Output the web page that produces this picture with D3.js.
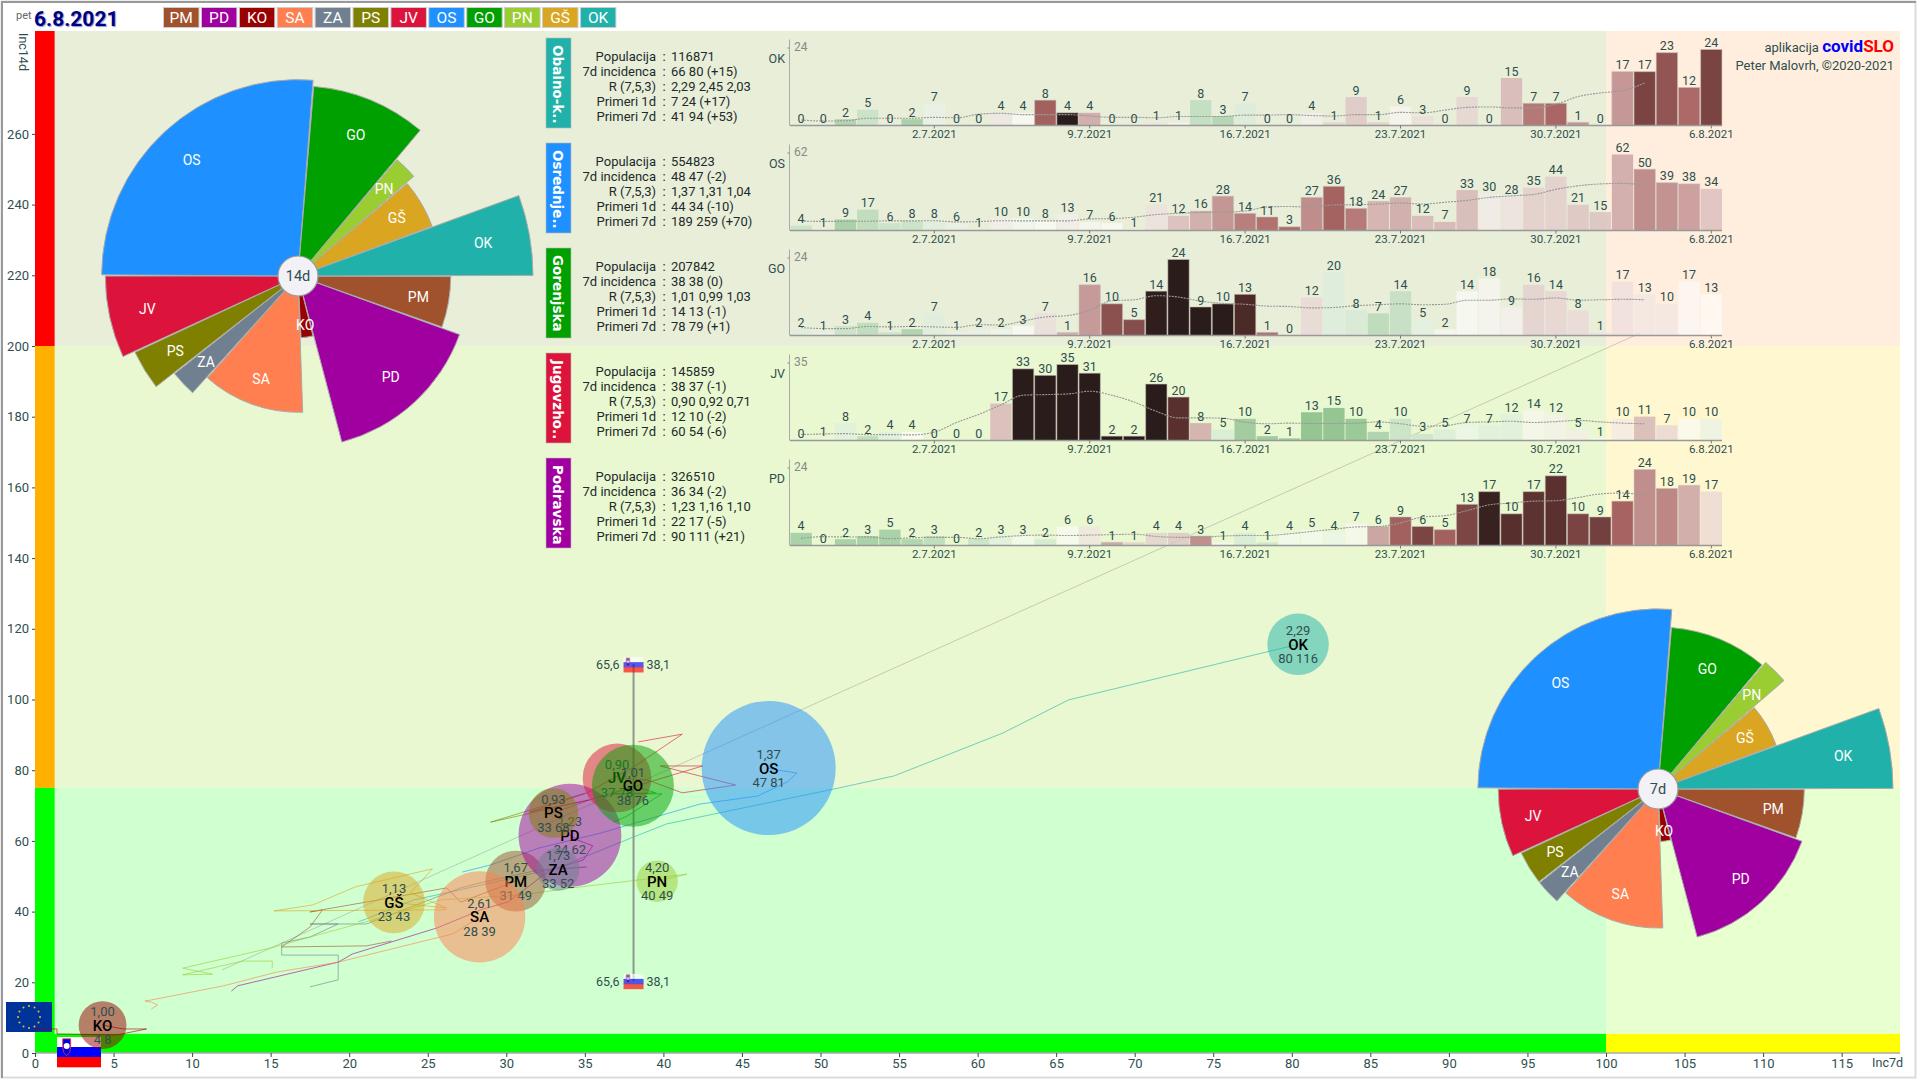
<!DOCTYPE html>
<html><head><meta charset="utf-8">
<script src="https://cdnjs.cloudflare.com/ajax/libs/d3/7.8.5/d3.min.js"></script>
<style>
html,body{margin:0;padding:0;background:#fff}
svg{display:block;font-family:Roboto,sans-serif}
</style></head><body>
<svg id="c" width="1920" height="1080"></svg>
<script>
// ---------- data ----------
const codes   = ["PM","PD","KO","SA","ZA","PS","JV","OS","GO","PN","GŠ","OK"];
const colors  = ["#a0522d","#a0009f","#990000","#ff7f50","#708090","#808000","#dc143c","#1e90ff","#00a000","#9acd32","#daa520","#20b2aa"];
const pops    = [114287,326510,70800,258000,57000,76000,145859,554823,207842,53000,118000,116871];
const inc7    = [30.6,34.05,4.3,28.3,33.3,33.0,37.05,46.7,38.06,39.6,22.85,80.4];
const inc14   = [48.6,61.6,7.9,38.5,52.0,67.9,77.8,80.6,75.6,48.6,42.6,115.6];
const rVals   = ["1,67","1,23","1,00","2,61","1,73","0,93","0,90","1,37","1,01","4,20","1,13","2,29"];

const trailPM = [[22.7,31.7],[21.1,30.3],[15.7,30.0],[17.5,35.6],[18.3,40.5],[17.5,39.9],[26.2,46.7],[27.1,42.7],[30.6,48.6]];
const trailPD = [[12.5,17.5],[12.9,19.0],[19.3,25.7],[20.2,28.0],[25.6,35.4],[28.5,40.7],[30.1,42.7],[32.8,51.8],[34.9,54.6],[35.5,58.6],[34.5,60.3],[34.05,61.6]];
const trailKO = [[0,6.8],[1.4,6.8],[1.4,5.4],[5.2,5.1],[7.1,6.8],[5.6,6.8],[4.3,7.9]];
const trailSA = [[7.4,12.4],[7.8,13.6],[7.4,14.4],[7.0,14.7],[7.4,15.0],[12.0,19.0],[15.4,22.9],[19.3,25.7],[26.6,33.7],[28.3,38.5]];
const trailZA = [[17.5,18.7],[19.3,20.7],[19.3,27.7],[15.7,27.7],[15.7,31.1],[17.5,32.8],[19.3,36.5],[17.5,36.5],[21.1,36.5],[27.1,46.7],[28.3,48.1],[32.1,51.8],[35.1,52.6],[33.3,52.0]];
const trailPS = [[35.0,73.5],[29.0,65.3],[35.3,71.6],[33.0,67.9]];
const trailJV = [[38.4,88.0],[41.2,90.2],[38.1,80.9],[35.1,73.5],[31.5,68.2],[35.3,71.6],[42.5,81.2],[39.8,81.2],[44.6,75.8],[41.2,73.6],[39.0,77.2],[37.05,77.8]];
const trailOS = [[27.2,51.2],[29.0,53.2],[32.1,58.0],[36.0,62.2],[42.3,70.4],[46.0,72.7],[47.9,76.7],[48.5,79.2],[47.2,80.1],[46.7,80.6]];
const trailGO = [[36.8,65.3],[37.6,66.8],[39.9,73.3],[36.8,73.3],[39.5,73.6],[38.06,75.6]];
const trailPN = [[15.1,24.0],[15.1,26.0],[13.2,26.0],[9.4,22.1],[11.3,22.3],[9.4,24.0],[15.0,29.7],[17.5,32.8],[22.2,38.5],[25.8,43.3],[30.9,44.7],[34.2,46.7],[41.5,50.6],[39.6,48.6]];
const trailGS = [[26.2,40.5],[15.2,40.2],[17.7,41.9],[20.4,47.0],[25.3,52.1],[23.9,45.3],[26.2,41.0],[22.85,42.6]];
const trailOK = [[20.6,37.1],[24.1,43.3],[26.2,45.3],[33.2,52.3],[38.1,61.1],[40.2,64.8],[51.2,75.0],[54.7,78.4],[61.6,90.5],[65.8,99.9],[80.4,115.6]];
const trailFaint = [[11.9,23.5],[102.2,203.7]];
const trails = [trailPM,trailPD,trailKO,trailSA,trailZA,trailPS,trailJV,trailOS,trailGO,trailPN,trailGS,trailOK];

const panelCodes = ["OK","OS","GO","JV","PD"];
const panelNames = ["Obalno-k..","Osrednje..","Gorenjska","Jugovzho..","Podravska"];
const statLabels = ["Populacija","7d incidenca","R (7,5,3)","Primeri 1d","Primeri 7d"];
const statsOK = ["116871","66 80 (+15)","2,29 2,45 2,03","7 24 (+17)","41 94 (+53)"];
const statsOS = ["554823","48 47 (-2)","1,37 1,31 1,04","44 34 (-10)","189 259 (+70)"];
const statsGO = ["207842","38 38 (0)","1,01 0,99 1,03","14 13 (-1)","78 79 (+1)"];
const statsJV = ["145859","38 37 (-1)","0,90 0,92 0,71","12 10 (-2)","60 54 (-6)"];
const statsPD = ["326510","36 34 (-2)","1,23 1,16 1,10","22 17 (-5)","90 111 (+21)"];
const panelStats = [statsOK,statsOS,statsGO,statsJV,statsPD];

const casesOK = [0,0,2,5,0,2,7,0,0,4,4,8,4,4,0,0,1,1,8,3,7,0,0,4,1,9,1,6,3,0,9,0,15,7,7,1,0,17,17,23,12,24];
const casesOS = [4,1,9,17,6,8,8,6,1,10,10,8,13,7,6,1,21,12,16,28,14,11,3,27,36,18,24,27,12,7,33,30,28,35,44,21,15,62,50,39,38,34];
const casesGO = [2,1,3,4,1,2,7,1,2,2,3,7,1,16,10,5,14,24,9,10,13,1,0,12,20,8,7,14,5,2,14,18,9,16,14,8,1,17,13,10,17,13];
const casesJV = [0,1,8,2,4,4,0,0,0,17,33,30,35,31,2,2,26,20,8,5,10,2,1,13,15,10,4,10,3,5,7,7,12,14,12,5,1,10,11,7,10,10];
const casesPD = [4,0,2,3,5,2,3,0,2,3,3,2,6,6,1,1,4,4,3,1,4,1,4,5,4,7,6,9,6,5,13,17,10,17,22,10,9,14,24,18,19,17];
const panelCases = [casesOK,casesOS,casesGO,casesJV,casesPD];
// ratio shown by the colour of the first bars (their prior weeks are not on the chart)
const earlyOK = [1,1,.6,.75,1,.55,.9,1,1,1.15,1,2,3.2];
const earlyOS = [.75,1,.55,.7,.75,.75,.85,.9,1.1,1.1,.95,1,1.1];
const earlyGO = [.85,.9,.75,.7,.75,.6,.85,.9,.9,.93,1,1.2,1.5];
const earlyJV = [1,.9,.85,.7,.85,1,1,1,1,1.4,3.5,3.5,3.5];
const earlyPD = [.55,1,.55,.55,.55,.6,.7,1,.75,.85,.95,.8,1.02];
const panelEarly = [earlyOK,earlyOS,earlyGO,earlyJV,earlyPD];
const dateTicks = [6,13,20,27,34,41];
const dateLabels = ["2.7.2021","9.7.2021","16.7.2021","23.7.2021","30.7.2021","6.8.2021"];

const sloInc7 = 38.1, sloInc14 = 65.6;
const sloTextL = "65,6", sloTextR = "38,1";

// ---------- setup ----------
const svg = d3.select("#c");
const ink = "#2f4f4f";
const x = d3.scaleLinear().domain([0,100]).range([35,1606]);
const y = d3.scaleLinear().domain([0,200]).range([1053,346]);
const xMax = x.invert(1900), yMax = y.invert(31);

// outer frame
svg.append("rect").attr("x",1.5).attr("y",1.5).attr("width",1914).attr("height",1076).attr("fill","#fff").attr("stroke","#dcdcdc").attr("stroke-width",2);
svg.append("path").attr("d","M2,1078V2H1916").attr("fill","none").attr("stroke","#999").attr("stroke-width",2);

// zones
const zones = [
 [0,100,200,yMax,"#e9eed9"],[100,xMax,200,yMax,"#ffeedd"],
 [0,100,75,200,"#e9f8d0"],[100,xMax,75,200,"#fff7d0"],
 [0,100,0,75,"#d0ffd0"],[100,xMax,0,75,"#e8ffd0"],
 [0,1.25,200,yMax,"#ff0000"],[0,1.25,75,200,"#ffb000"],[0,1.25,0,75,"#00ff00"],
 [0,100,0,5.4,"#00ff00"],[100,xMax,0,5.4,"#ffff00"]];
svg.append("g").selectAll("rect").data(zones).join("rect")
 .attr("x",d=>x(d[0])).attr("width",d=>x(d[1])-x(d[0]))
 .attr("y",d=>y(d[3])).attr("height",d=>y(d[2])-y(d[3])).attr("fill",d=>d[4]);

// axes
const xAxis = d3.axisBottom(x).tickValues(d3.range(0,116,5)).tickSize(4).tickPadding(2).tickFormat(d3.format("d"));
const gx = svg.append("g").attr("transform","translate(0,1053)").call(xAxis);
const yAxis = d3.axisLeft(y).tickValues(d3.range(0,261,20)).tickSize(3).tickPadding(3).tickFormat(d3.format("d"));
const gy = svg.append("g").attr("transform","translate(35,0)").call(yAxis);
gx.select(".domain").attr("d","M35,0H1900").attr("stroke","#aaa").attr("stroke-width",1.5);
gy.select(".domain").attr("stroke","none");
[gx,gy].forEach(g=>{g.selectAll("line").attr("stroke","#2f4f4f");
 g.selectAll("text").attr("fill",ink).attr("font-size",13).attr("font-family","Roboto,sans-serif");});
svg.append("text").attr("x",1903).attr("y",1067).attr("text-anchor","end").attr("font-size",12.5).attr("fill",ink).text("Inc7d");
svg.append("text").attr("transform","translate(19,33) rotate(90)").attr("font-size",12.5).attr("fill",ink).text("Inc14d");

// legend
const lg = svg.append("g").selectAll("g").data(codes).join("g").attr("transform",(d,i)=>`translate(${163.5+i*37.9},7.5)`);
lg.append("rect").attr("width",35.5).attr("height",20).attr("fill",(d,i)=>colors[i]).attr("stroke","#ccc").attr("stroke-width",1);
lg.append("text").attr("x",17.7).attr("y",15.8).attr("text-anchor","middle").attr("fill","#fff").attr("font-size",15.5).text(d=>d);

svg.append("text").attr("x",16).attr("y",19).attr("font-size",11).attr("fill","#666").text("pet");
svg.append("text").attr("x",34).attr("y",26).attr("font-size",21).attr("font-weight",700).attr("fill","#000080")
 .style("text-shadow","1px 1px 1px #8899cc").text("6.8.2021");

// credit
const cr = svg.append("text").attr("x",1894).attr("y",52).attr("text-anchor","end").attr("font-size",13).attr("fill",ink);
cr.append("tspan").text("aplikacija ");
cr.append("tspan").attr("fill","#0000ff").attr("font-weight",700).attr("font-size",17).text("covid");
cr.append("tspan").attr("fill","#ff0000").attr("font-weight",700).attr("font-size",17).text("SLO");
svg.append("text").attr("x",1894).attr("y",70).attr("text-anchor","end").attr("font-size",13).attr("fill",ink).text("Peter Malovrh, ©2020-2021");

function flag(g,w,h,op){
 const s=d3.scaleBand().domain([0,1,2]).range([0,h]);
 g.selectAll("rect").data(["#ffffff","#0000ff","#ff0000"]).join("rect")
  .attr("y",(d,i)=>s(i)).attr("width",w).attr("height",s.bandwidth()+.3).attr("fill",d=>d).attr("opacity",op);
 g.append("path").attr("transform",`translate(${w*.22},${h*.06})`)
  .attr("d",`M${-w*.09},0H${w*.09}V${h*.3}Q${w*.09},${h*.48} 0,${h*.56}Q${-w*.09},${h*.48} ${-w*.09},${h*.3}Z`)
  .attr("fill","#0000dd").attr("stroke","#ff3333").attr("stroke-width",.8).attr("opacity",op);
 g.append("circle").attr("cx",w*.22).attr("cy",h*.3).attr("r",h*.1).attr("fill","#fff").attr("opacity",op);
}

// EU + SI corner flags (under the KO bubble)
const eu = svg.append("g").attr("transform","translate(6,1002)");
eu.append("rect").attr("width",46).attr("height",30).attr("fill","#003399");
eu.selectAll("circle").data(d3.range(12)).join("circle").attr("r",1).attr("fill","#e8c020")
 .attr("cx",d=>23+11*Math.cos(d*Math.PI/6)).attr("cy",d=>15+11*Math.sin(d*Math.PI/6));
flag(svg.append("g").attr("transform","translate(57,1037)"),44,30,1);

// trails
const line = d3.line().x(d=>x(d[0])).y(d=>y(d[1]));
svg.append("path").attr("d",line(trailFaint)).attr("fill","none").attr("stroke","#8a8a8a").attr("stroke-opacity",.4).attr("stroke-width",1);
svg.append("g").selectAll("path").data(trails).join("path").attr("d",line).attr("fill","none")
 .attr("stroke",(d,i)=>colors[i]).attr("stroke-opacity",.6).attr("stroke-width",1);

// Slovenia reference line
const topY = y(110), botY = y(20.4), sx = x(sloInc7);
svg.append("line").attr("x1",sx).attr("x2",sx).attr("y1",topY).attr("y2",botY).attr("stroke","#8f9a8f").attr("stroke-width",2);
[topY,botY].forEach(py=>{
 flag(svg.append("g").attr("transform",`translate(${sx-10},${py-7})`),20,15,.65);
 svg.append("text").attr("x",sx-14).attr("y",py+5).attr("text-anchor","end").attr("font-size",12.5).attr("fill",ink).text(sloTextL);
 svg.append("text").attr("x",sx+13).attr("y",py+5).attr("font-size",12.5).attr("fill",ink).text(sloTextR);
});

// bubbles
const rBub = d3.scaleSqrt().domain([0,554823]).range([0,67]);
const bub = svg.append("g").selectAll("g").data(codes).join("g").attr("transform",(d,i)=>`translate(${x(inc7[i])},${y(inc14[i])})`);
bub.append("circle").attr("r",(d,i)=>rBub(pops[i])).attr("fill",(d,i)=>colors[i]).attr("fill-opacity",.5);
bub.append("text").attr("y",-9).attr("text-anchor","middle").attr("font-size",13).attr("fill",ink).text((d,i)=>rVals[i]);
bub.append("text").attr("y",5.5).attr("text-anchor","middle").attr("font-size",15).attr("font-weight",500).attr("fill","#000").text(d=>d);
bub.append("text").attr("y",19).attr("text-anchor","middle").attr("font-size",13).attr("fill",ink)
 .text((d,i)=>Math.round(inc7[i])+" "+Math.ceil(inc14[i]));

// panels
const ratioColor = d3.scaleLinear()
 .domain([.4,.7,1,1.6,1.93,2.29,2.5,3])
 .range(["#8cc08c","#bcdcbc","#ffffff","#c49595","#a86060","#733a3a","#532626","#201010"])
 .clamp(true);
const barOpacity = d3.scaleLinear().domain([.7,1,1.6]).range([.92,.62,.95]).clamp(true);
const xBar = d3.scaleBand().domain(d3.range(42)).range([790,1722.4]).paddingInner(.04).paddingOuter(.02);
const smoothLine = d3.line().curve(d3.curveMonotoneX);

panelCodes.forEach((code,p)=>{
 const top = 38+105*p, base = 125.5+105*p;
 const vals = panelCases[p], maxV = d3.max(vals);
 const col = colors[codes.indexOf(code)];
 const g = svg.append("g");
 g.append("rect").attr("x",546).attr("y",top).attr("width",25).attr("height",90).attr("fill",col).attr("stroke","#bbb").attr("stroke-opacity",.6);
 g.append("text").attr("transform",`translate(553,${top+7}) rotate(90)`).attr("font-family","DejaVu Sans").attr("font-weight",700)
  .attr("font-size",13.5).attr("fill","#fff").text(panelNames[p]);
 panelStats[p].forEach((v,i)=>{
  const ty = top+22.5+15*i;
  g.append("text").attr("x",656).attr("y",ty).attr("text-anchor","end").attr("font-size",13).attr("fill","#1c2b2b").text(statLabels[i]);
  g.append("text").attr("x",664).attr("y",ty).attr("text-anchor","middle").attr("font-size",13).attr("fill","#1c2b2b").text(":");
  g.append("text").attr("x",671).attr("y",ty).attr("font-size",13).attr("fill","#1c2b2b").text(v);
 });
 const yb = d3.scaleLinear().domain([0,maxV]).range([base,base-76]);
 const ratio = i=> i<13 ? panelEarly[p][i] : d3.sum(vals.slice(i-6,i+1))/Math.max(d3.sum(vals.slice(i-13,i-6)),1);
 g.selectAll(".b").data(vals).join("rect").attr("class","b")
  .attr("x",(d,i)=>xBar(i)).attr("width",xBar.bandwidth()).attr("y",d=>yb(d)).attr("height",d=>base-yb(d))
  .attr("fill",(d,i)=>ratioColor(ratio(i))).attr("fill-opacity",(d,i)=>barOpacity(ratio(i)))
  .attr("stroke",(d,i)=>ratio(i)>1.5?"#c8c0b8":"none").attr("stroke-opacity",.55).attr("stroke-width",1);
 // centred 7-day average
 const avg = d3.range(0,39).map(i=>[xBar(i)+xBar.bandwidth()/2, yb(d3.mean(vals.slice(Math.max(0,i-3),i+4)))]);
 g.append("path").attr("d",smoothLine(avg)).attr("fill","none").attr("stroke","#999").attr("stroke-width",1.1).attr("stroke-dasharray","2,1");
 g.selectAll(".v").data(vals).join("text").attr("class","v")
  .attr("x",(d,i)=>xBar(i)+xBar.bandwidth()/2).attr("y",d=>yb(d)-2.5).attr("text-anchor","middle")
  .attr("font-size",12.5).attr("fill",ink).text(d=>d);
 // axes
 const ax = d3.axisBottom(xBar).tickValues(dateTicks).tickSize(3).tickPadding(1).tickFormat((d,i)=>dateLabels[i]);
 const ga = g.append("g").attr("transform",`translate(0,${base})`).call(ax);
 ga.select(".domain").attr("d","M790,0H1722").attr("stroke","#999").attr("stroke-width",1.5);
 ga.selectAll("line").attr("stroke","#777");
 ga.selectAll("text").attr("font-size",11.5).attr("fill",ink).attr("font-family","Roboto,sans-serif");
 const ay = d3.axisLeft(d3.scaleLinear().domain([0,maxV]).range([base,base-78])).tickValues([maxV]).tickSize(2).tickFormat("");
 const gay = g.append("g").attr("transform","translate(789.5,0)").call(ay);
 gay.select(".domain").attr("d",`M0,${base}V${base-86}`).attr("stroke","#aaa");
 gay.selectAll("line").attr("stroke","#888");
 g.append("text").attr("x",794).attr("y",base-75).attr("font-size",12).attr("fill","#888").text(maxV);
 g.append("text").attr("x",785).attr("y",base-63).attr("text-anchor","end").attr("font-size",12.5).attr("fill",ink).text(code);
});

// roses
function rose(cx,cy,vals,maxInc,label){
 const r = d3.scaleSqrt().domain([0,maxInc]).range([0,235]);
 const pie = d3.pie().value(d=>d).sort(null).startAngle(Math.PI/2).endAngle(Math.PI*2.5).padAngle(.006);
 const arcs = pie(pops);
 const arc = d3.arc().innerRadius(0).padRadius(200);
 const g = svg.append("g").attr("transform",`translate(${cx},${cy})`);
 g.selectAll("path").data(arcs).join("path")
  .attr("d",(d,i)=>arc.outerRadius(r(vals[i]))(d))
  .attr("fill",(d,i)=>colors[i]).attr("stroke","#aaa").attr("stroke-width",1);
 g.selectAll("text.l").data(arcs).join("text").attr("class","l")
  .attr("transform",(d,i)=>{const a=(d.startAngle+d.endAngle)/2-Math.PI/2,q=r(vals[i])*.8;return `translate(${q*Math.cos(a)},${q*Math.sin(a)})`;})
  .attr("text-anchor","middle").attr("dy",5).attr("font-size",14).attr("fill","#fff").text((d,i)=>codes[i]);
 g.append("circle").attr("r",20).attr("fill","#f1f1f6").attr("stroke","#999").attr("stroke-width",1.2);
 g.append("text").attr("text-anchor","middle").attr("dy",5).attr("font-size",14.5).attr("fill",ink).text(label);
}
const round14 = inc14.map(Math.ceil), round7 = inc7.map(Math.round);
rose(298,276,round14,116,"14d");
rose(1658,789,round7,80,"7d");
</script>
</body></html>
